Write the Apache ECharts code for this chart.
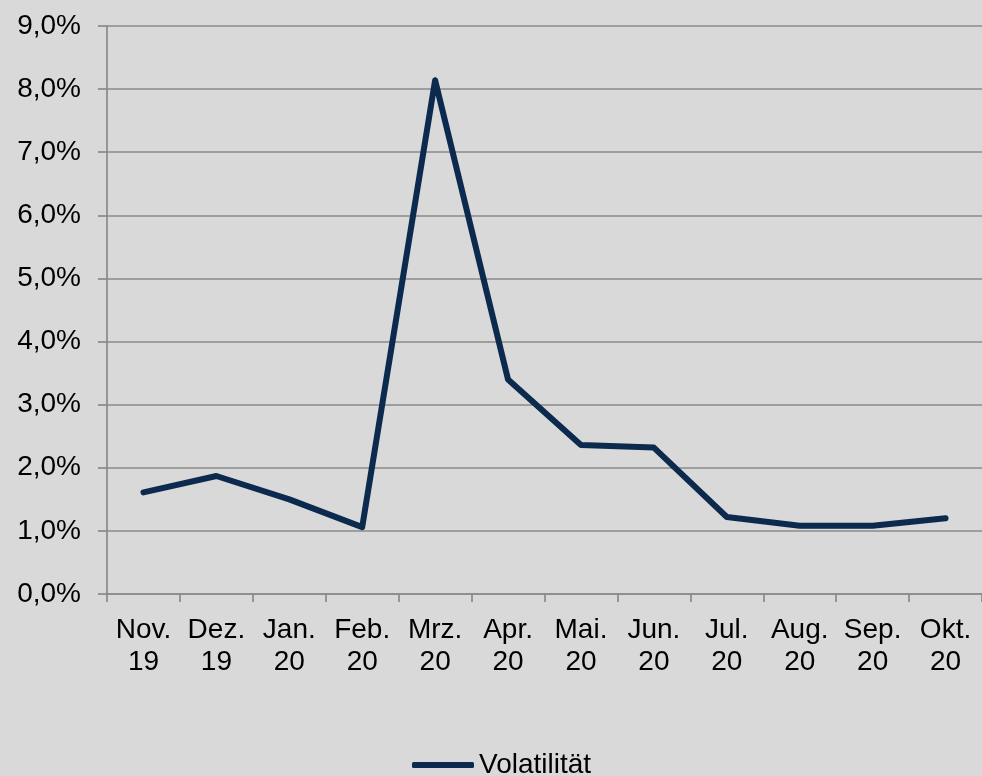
<!DOCTYPE html>
<html>
<head>
<meta charset="utf-8">
<script src="https://cdn.jsdelivr.net/npm/echarts@6/dist/echarts.min.js"></script>
<style>
html,body{margin:0;padding:0;background:#d9d9d9;}
#chart{width:982px;height:776px;}
</style>
</head>
<body>
<div id="chart"></div>
<script>
const categories = ['Nov.\n19','Dez.\n19','Jan.\n20','Feb.\n20','Mrz.\n20','Apr.\n20','Mai.\n20','Jun.\n20','Jul.\n20','Aug.\n20','Sep.\n20','Okt.\n20'];
const volatility = [1.61, 1.87, 1.50, 1.06, 8.14, 3.40, 2.36, 2.32, 1.22, 1.08, 1.08, 1.20];
const seriesName = 'Volatilität';
const yMin = 0, yMax = 9, yStep = 1;

const font = '"Liberation Sans", Arial, sans-serif';
const axisColor = '#8a8a8a';
const lineColor = '#0b2a4e';

const chart = echarts.init(document.getElementById('chart'));
chart.setOption({
  backgroundColor: '#d9d9d9',
  animation: false,
  grid: { left: 107, right: -5, top: 26, bottom: 182 },
  legend: {
    data: [{ name: seriesName, icon: 'roundRect' }],
    left: 412, top: 751, padding: 0,
    itemWidth: 62, itemHeight: 6, itemGap: 0,
    textStyle: { fontFamily: font, fontSize: 28, color: '#000' }
  },
  xAxis: {
    type: 'category',
    data: categories,
    boundaryGap: true,
    axisLine: { show: true, lineStyle: { color: axisColor, width: 1.7 } },
    axisTick: { show: true, length: 8, lineStyle: { color: axisColor, width: 1.7 } },
    axisLabel: { margin: 20, fontFamily: font, fontSize: 28, color: '#000', lineHeight: 32, interval: 0 },
    splitLine: { show: false }
  },
  yAxis: {
    type: 'value',
    min: yMin, max: yMax, interval: yStep,
    axisLine: { show: true, lineStyle: { color: axisColor, width: 1.7 } },
    axisTick: { show: true, length: 9, lineStyle: { color: axisColor, width: 1.7 } },
    axisLabel: {
      margin: 26, fontFamily: font, fontSize: 28, color: '#000',
      formatter: v => v.toFixed(1).replace('.', ',') + '%'
    },
    splitLine: { show: true, lineStyle: { color: axisColor, width: 1.7 } }
  },
  series: [{
    name: seriesName,
    type: 'line',
    data: volatility,
    symbol: 'none',
    lineStyle: { color: lineColor, width: 6, cap: 'round', join: 'round' },
    itemStyle: { color: lineColor }
  }]
});
</script>
</body>
</html>
